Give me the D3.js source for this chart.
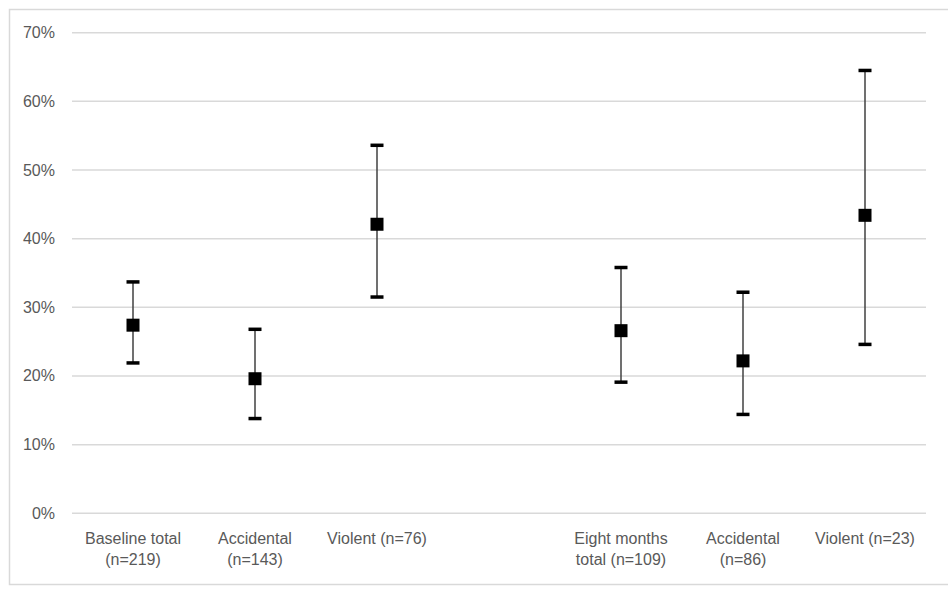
<!DOCTYPE html>
<meta charset='utf-8'>
<style>
html, body { margin: 0; padding: 0; background: #fff; }
text { font-family: 'Liberation Sans', 'DejaVu Sans', sans-serif; fill: #595959; }
.grid line { stroke: #d9d9d9; stroke-width: 1.5; }
.err { stroke: #404040; stroke-width: 1.5; }
.cap { stroke: #000; stroke-width: 3.5; }
</style>
<body>
<div id='chart'></div>
<script src='https://d3js.org/d3.v7.min.js'></script>
<script>
// categories (blank slot between the two time points)
var categories = ['base_total', 'base_acc', 'base_vio', 'gap', 'eight_total', 'eight_acc', 'eight_vio'];
var catLabels = [
  ['Baseline total', '(n=219)'],
  ['Accidental', '(n=143)'],
  ['Violent (n=76)'],
  [],
  ['Eight months', 'total (n=109)'],
  ['Accidental', '(n=86)'],
  ['Violent (n=23)']
];
var pointVals = [27.4, 19.6, 42.1, null, 26.6, 22.2, 43.4];
var upperVals = [33.7, 26.8, 53.6, null, 35.8, 32.2, 64.5];
var lowerVals = [21.9, 13.8, 31.5, null, 19.1, 14.4, 24.6];
var yTicks = [0, 10, 20, 30, 40, 50, 60, 70];

var W = 948, H = 593;
var svg = d3.select('#chart').append('svg')
  .attr('width', W)
  .attr('height', H);

// chart frame
svg.append('rect')
  .attr('x', 9.5).attr('y', 9.5)
  .attr('width', W).attr('height', 575)
  .attr('fill', 'none')
  .attr('stroke', '#d9d9d9')
  .attr('stroke-width', 1.5);

var x = d3.scaleBand().domain(categories).range([72, 926]);
var y = d3.scaleLinear().domain([0, 70]).range([513.3, 32.7]);

var grid = svg.append('g').attr('class', 'grid');
grid.selectAll('line').data(yTicks).enter().append('line')
  .attr('x1', 72).attr('x2', 926)
  .attr('y1', function(d){ return y(d); })
  .attr('y2', function(d){ return y(d); });

svg.append('g').selectAll('text').data(yTicks).enter().append('text')
  .attr('x', 55)
  .attr('y', function(d){ return y(d) + 5.5; })
  .attr('text-anchor', 'end')
  .style('font-size', '16px')
  .text(function(d){ return d + '%'; });

// x labels
var xl = svg.append('g').selectAll('text').data(categories).enter().append('text')
  .attr('text-anchor', 'middle')
  .style('font-size', '16px')
  .attr('transform', function(d){ return 'translate(' + (x(d) + x.bandwidth()/2) + ',544)'; });
xl.each(function(d, i){
  var t = d3.select(this);
  catLabels[i].forEach(function(line, j){
    t.append('tspan').attr('x', 0).attr('y', j * 21).text(line);
  });
});

var pts = categories.map(function(c, i){
  return {c: c, v: pointVals[i], hi: upperVals[i], lo: lowerVals[i]};
}).filter(function(d){ return d.v != null; });

var g = svg.append('g');
var cx = function(d){ return x(d.c) + x.bandwidth()/2; };
g.selectAll('.err').data(pts).enter().append('line')
  .attr('class', 'err')
  .attr('x1', cx).attr('x2', cx)
  .attr('y1', function(d){ return y(d.hi); })
  .attr('y2', function(d){ return y(d.lo); });
['hi', 'lo'].forEach(function(k){
  g.selectAll('.cap-' + k).data(pts).enter().append('line')
    .attr('class', 'cap cap-' + k)
    .attr('x1', function(d){ return cx(d) - 6.5; })
    .attr('x2', function(d){ return cx(d) + 6.5; })
    .attr('y1', function(d){ return y(d[k]); })
    .attr('y2', function(d){ return y(d[k]); });
});
g.selectAll('rect').data(pts).enter().append('rect')
  .attr('x', function(d){ return cx(d) - 6.5; })
  .attr('y', function(d){ return y(d.v) - 6.5; })
  .attr('width', 13).attr('height', 13)
  .attr('fill', '#000');
</script>
</body>
